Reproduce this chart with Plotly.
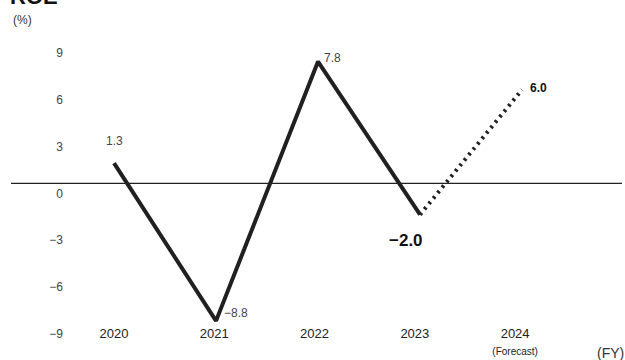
import plotly.graph_objects as go

years = ["2020", "2021", "2022", "2023", "2024"]
tick_labels = ["2020", "2021", "2022", "2023", "2024<br><span style='font-size:10px'>(Forecast)</span>"]
roe_actual = [1.3, -8.8, 7.8, -2.0]
roe_forecast = [-2.0, 6.0]
value_labels = ["1.3", "\u22128.8", "7.8", "\u22122.0", "6.0"]
y_ticks = [9, 6, 3, 0, -3, -6, -9]
y_tick_text = ["9", "6", "3", "0", "\u22123", "\u22126", "\u22129"]

W, H = 625, 360
ML, MR, MT, MB = 72, 3, 35, 36
PW, PH = W - ML - MR, H - MT - MB

def px(x):
    return (x - ML) / PW

def py(y):
    return (H - MB - y) / PH

xi = list(range(len(years)))
LINE = "#231f20"

fig = go.Figure()
fig.add_trace(go.Scatter(x=xi[:4], y=roe_actual, mode="lines",
                         line=dict(color=LINE, width=4), cliponaxis=False,
                         hoverinfo="skip"))
fig.add_trace(go.Scatter(x=xi[3:], y=roe_forecast, mode="lines",
                         line=dict(color=LINE, width=4, dash="2.5px,4.5px"),
                         cliponaxis=False, hoverinfo="skip"))

all_vals = roe_actual + roe_forecast[1:]
# label styling: (xshift, yshift, size, bold, color)
styles = [
    (0, 22, 12, False, "#444"),
    (20, 8, 12, False, "#444"),
    (14, 4, 12, False, "#444"),
    (-14, -26, 17, True, "#111"),
    (16, 2, 12, True, "#111"),
]
for i, (v, t) in enumerate(zip(all_vals, value_labels)):
    dx, dy, sz, b, c = styles[i]
    fig.add_annotation(x=i, y=v, text=f"<b>{t}</b>" if b else t, showarrow=False,
                       xshift=dx, yshift=dy, font=dict(size=sz, color=c))

fig.add_shape(type="line", xref="paper", yref="y", x0=px(11), x1=1, y0=0, y1=0,
              line=dict(color="#222", width=1.2))

fig.add_annotation(xref="paper", yref="paper", x=px(8), y=py(11), text="<b>ROE</b>",
                   showarrow=False, xanchor="left", yanchor="bottom",
                   font=dict(size=22, color="#111"))
fig.add_annotation(xref="paper", yref="paper", x=px(22), y=py(20), text="(%)",
                   showarrow=False, xanchor="center", yanchor="middle",
                   font=dict(size=12, color="#333"))
fig.add_annotation(xref="paper", yref="paper", x=px(610), y=py(353), text="(FY)",
                   showarrow=False, xanchor="center", yanchor="middle",
                   font=dict(size=14, color="#333"))

fig.update_layout(
    width=W, height=H, margin=dict(l=ML, r=MR, t=MT, b=MB),
    paper_bgcolor="white", plot_bgcolor="white", showlegend=False,
    font=dict(family="Liberation Sans, Arial, sans-serif", color="#333"),
    xaxis=dict(range=[-0.412, 4.98], tickvals=[i * 0.983 for i in xi], ticktext=tick_labels,
               showgrid=False, zeroline=False, showline=False, ticks="",
               tickfont=dict(size=13, color="#222")),
    yaxis=dict(range=[-9.0, 9.5], tickvals=y_ticks, ticktext=y_tick_text,
               showgrid=False, zeroline=False, showline=False, ticks="",
               ticklabelshift=10, ticklabelstandoff=8,
               tickfont=dict(size=12, color="#444")),
)
fig.write_html("out.html")
